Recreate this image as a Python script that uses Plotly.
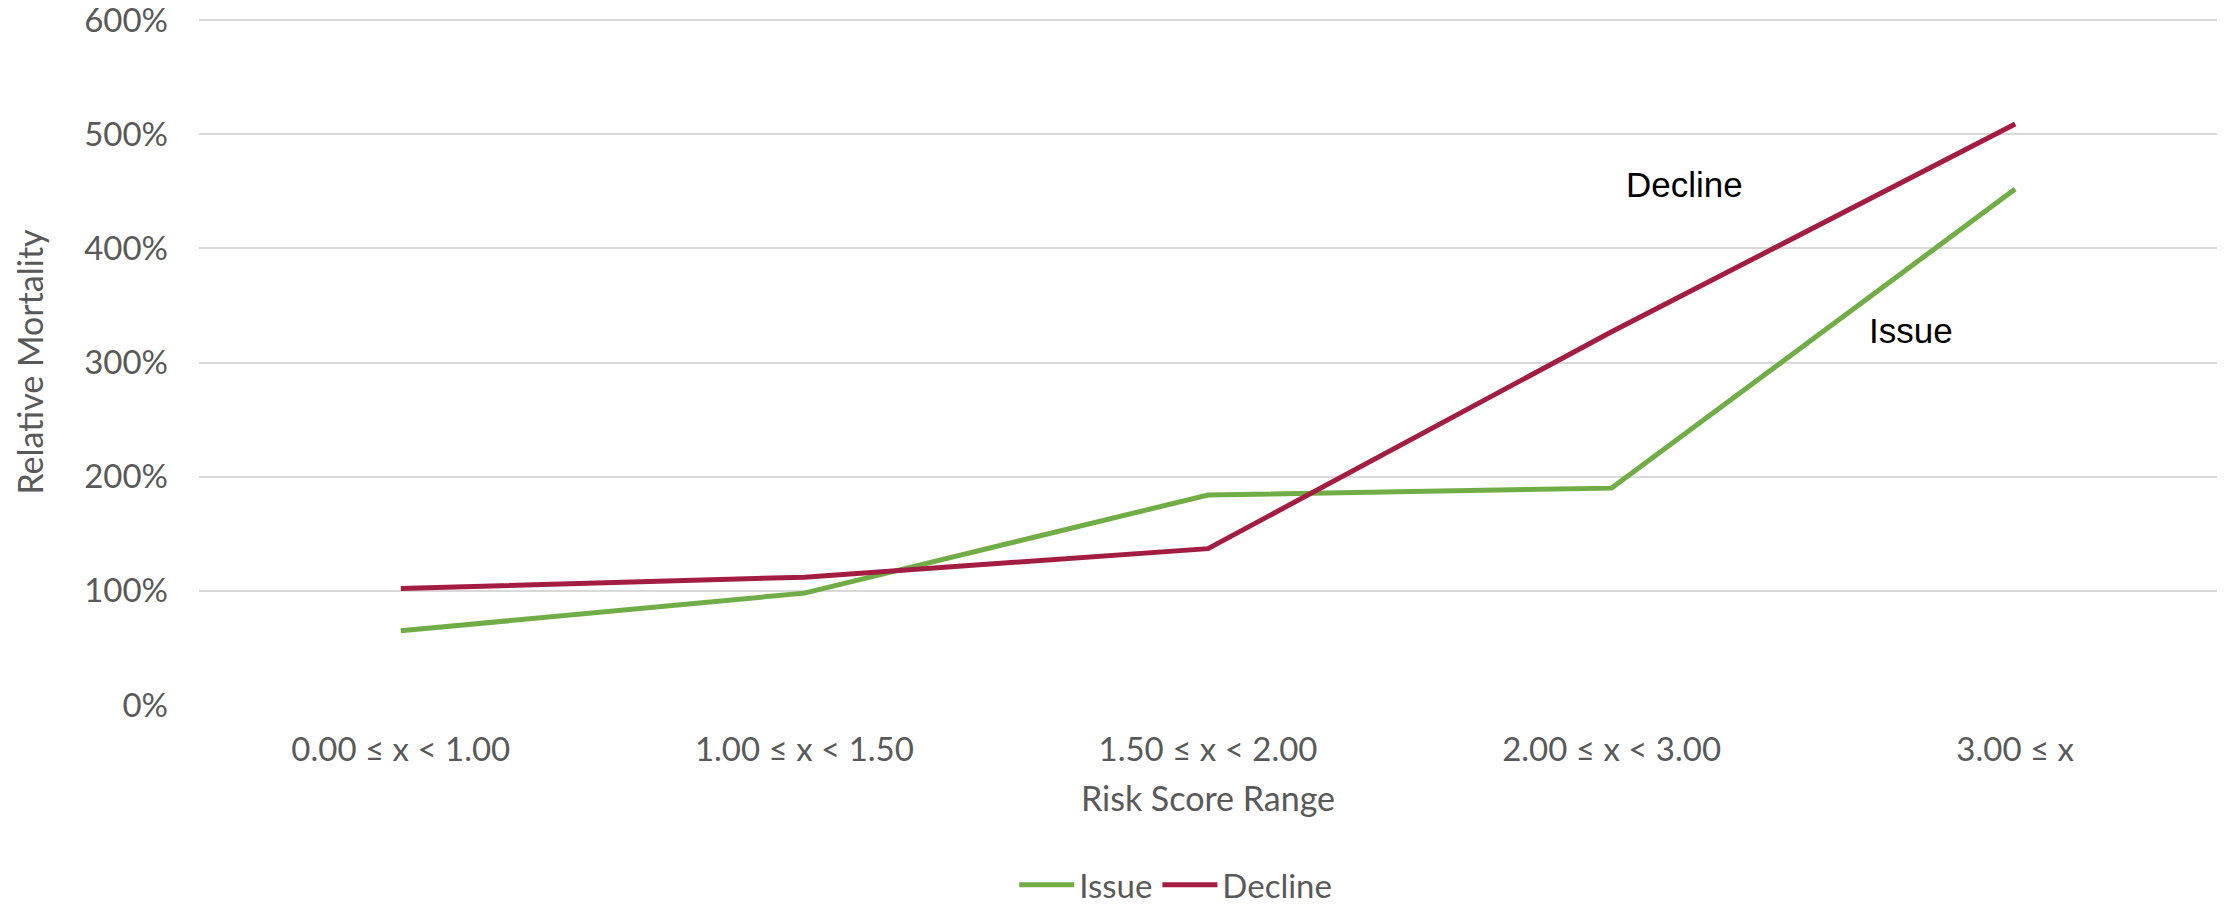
import plotly.graph_objects as go

# Risk score bands on the x axis
categories = ["0.00 ≤ x < 1.00", "1.00 ≤ x < 1.50", "1.50 ≤ x < 2.00",
              "2.00 ≤ x < 3.00", "3.00 ≤ x"]

# Relative mortality (1.0 = 100%)
issue = [0.65, 0.98, 1.84, 1.90, 4.52]
decline = [1.02, 1.12, 1.37, 3.27, 5.09]

y_ticks = [0, 1, 2, 3, 4, 5, 6]

GREEN = "#70AD47"
RED = "#A31D42"
GREY_TEXT = "#595959"
FONT = "Lato"

fig = go.Figure()
fig.add_trace(go.Scatter(x=categories, y=issue, name="Issue", mode="lines",
                         line=dict(color=GREEN, width=5)))
fig.add_trace(go.Scatter(x=categories, y=decline, name="Decline", mode="lines",
                         line=dict(color=RED, width=5)))

# In-chart series labels
fig.add_annotation(x=3.18, y=4.556, text="Decline", showarrow=False,
                   font=dict(family="Liberation Sans, Arial", size=35, color="#000000"))
fig.add_annotation(x=3.743, y=3.283, text="Issue", showarrow=False,
                   font=dict(family="Liberation Sans, Arial", size=35, color="#000000"))

fig.update_layout(
    width=2225, height=906,
    margin=dict(l=199, r=8, t=19, b=201, autoexpand=False),
    paper_bgcolor="white", plot_bgcolor="white",
    font=dict(family=FONT, size=33, color=GREY_TEXT),
    showlegend=True,
    legend=dict(orientation="h", x=0.484, xanchor="center", y=-0.262, yanchor="middle",
                font=dict(family=FONT, size=33, color=GREY_TEXT),
                itemwidth=55, tracegroupgap=0),
    xaxis=dict(
        type="category", range=[-0.5, 4.5], automargin=False,
        showgrid=False, zeroline=False, showline=False, ticks="",
        tickfont=dict(family=FONT, size=33, color=GREY_TEXT),
        ticklabelstandoff=22,
        title=dict(text="Risk Score Range", standoff=20,
                   font=dict(family=FONT, size=34, color=GREY_TEXT)),
    ),
    yaxis=dict(
        range=[0, 6.01], tickvals=y_ticks, tickformat=".0%", automargin=False,
        ticklabeloverflow="allow",
        showgrid=True, gridcolor="#D9D9D9", gridwidth=2,
        zeroline=False, showline=False, ticks="",
        tickfont=dict(family=FONT, size=33, color=GREY_TEXT),
        ticklabelstandoff=30,
        title=dict(text="Relative Mortality", standoff=30,
                   font=dict(family=FONT, size=34, color=GREY_TEXT)),
    ),
)

fig.write_html("out.html")
